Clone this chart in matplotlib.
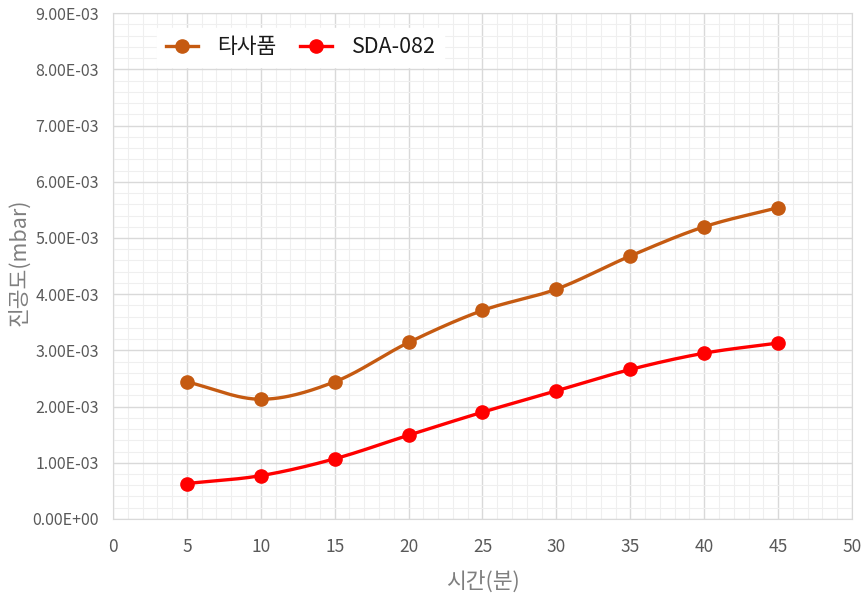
import matplotlib
matplotlib.use("Agg")
import matplotlib.pyplot as plt
from matplotlib.ticker import MultipleLocator, FuncFormatter
import numpy as np

plt.rcParams['font.family'] = ['Noto Sans CJK KR', 'DejaVu Sans']

minutes = [5, 10, 15, 20, 25, 30, 35, 40, 45]
other_product = [2.44e-3, 2.13e-3, 2.44e-3, 3.14e-3, 3.71e-3, 4.09e-3, 4.68e-3, 5.20e-3, 5.54e-3]
sda_082 = [0.63e-3, 0.77e-3, 1.07e-3, 1.49e-3, 1.90e-3, 2.28e-3, 2.66e-3, 2.95e-3, 3.13e-3]
series_names = ['타사품', 'SDA-082']
series_colors = ['#C55A11', '#FF0000']


def smooth(x, y, steps=30):
    # catmull-rom curve through the points, like excel's smoothed line
    x = np.asarray(x, float)
    y = np.asarray(y, float)
    px = np.concatenate([[2 * x[0] - x[1]], x, [2 * x[-1] - x[-2]]])
    py = np.concatenate([[2 * y[0] - y[1]], y, [2 * y[-1] - y[-2]]])
    t = np.linspace(0, 1, steps)
    xs, ys = [], []
    for i in range(1, len(px) - 2):
        for p, out in ((px, xs), (py, ys)):
            p0, p1, p2, p3 = p[i - 1], p[i], p[i + 1], p[i + 2]
            out.append(0.5 * (2 * p1 + (-p0 + p2) * t
                              + (2 * p0 - 5 * p1 + 4 * p2 - p3) * t ** 2
                              + (-p0 + 3 * p1 - 3 * p2 + p3) * t ** 3))
    return np.concatenate(xs), np.concatenate(ys)


fig = plt.figure(figsize=(8.65, 6.02), dpi=100)
ax = fig.add_axes([0.1306, 0.138, 0.8544, 0.840])

for vals, name, col in zip([other_product, sda_082], series_names, series_colors):
    sx, sy = smooth(minutes, vals)
    ax.plot(sx, sy, color=col, lw=2.4, zorder=3)
    ax.plot(minutes, vals, 'o', color=col, ms=9.5, zorder=4)
    ax.plot([], [], '-o', color=col, lw=2.4, ms=9.5, label=name)

ax.set_xlim(0, 50)
ax.set_ylim(0, 9e-3)
ax.xaxis.set_major_locator(MultipleLocator(5))
ax.xaxis.set_minor_locator(MultipleLocator(1))
ax.yaxis.set_major_locator(MultipleLocator(1e-3))
ax.yaxis.set_minor_locator(MultipleLocator(0.2e-3))
ax.yaxis.set_major_formatter(FuncFormatter(lambda v, p: ('%.2E' % v)))

ax.grid(which='major', color='#d9d9d9', lw=1.0, zorder=0)
ax.grid(which='minor', color='#efefef', lw=0.8, zorder=0)
ax.set_axisbelow(True)
for s in ax.spines.values():
    s.set_color('#d9d9d9')
ax.tick_params(which='both', length=0, colors='#595959')
ax.tick_params(axis='y', labelsize=11.5, pad=10)
ax.tick_params(axis='x', labelsize=12.5, pad=14)

ax.set_xlabel('시간(분)', color='#7f7f7f', fontsize=15.5, labelpad=10)
ax.set_ylabel('진공도(mbar)', color='#7f7f7f', fontsize=15.5, fontweight='medium')
ax.yaxis.set_label_coords(-0.112, 0.508)

leg = ax.legend(loc='center left', bbox_to_anchor=(0.045, 0.933), ncol=2, frameon=True,
                prop={'size': 15.5, 'weight': 'medium'}, handlelength=1.5, handletextpad=0.9,
                columnspacing=1.1, borderpad=0.4, fancybox=False, edgecolor='white',
                framealpha=1)
for t in leg.get_texts():
    t.set_color('#1a1a1a')

fig.savefig('out.png', dpi=100)
